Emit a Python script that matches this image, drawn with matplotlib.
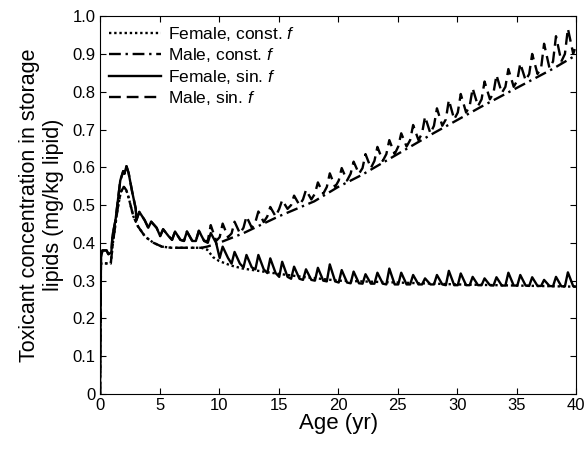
import matplotlib
matplotlib.use('Agg')
import matplotlib.pyplot as plt

plt.rcParams['font.family'] = ['Liberation Sans', 'DejaVu Sans']
plt.rcParams['mathtext.fontset'] = 'custom'
plt.rcParams['mathtext.it'] = 'Liberation Sans:italic'
plt.rcParams['mathtext.rm'] = 'Liberation Sans'

# smooth (constant f) curves, shared until ~8.5 yr
const_t = [0, 0.05, 0.3, 0.9, 1.1, 1.5, 1.75, 2.0, 2.2, 2.4, 2.8, 3.2, 3.8, 4.5, 5.2, 6.0, 8.5]
const_v = [0, 0.345, 0.346, 0.345, 0.405, 0.495, 0.535, 0.548, 0.54, 0.52, 0.47, 0.443, 0.416, 0.40, 0.39, 0.387, 0.387]

fem_const_t = [9.0, 9.5, 10, 11, 12, 13.5, 15, 17, 20, 25, 30, 35, 40]
fem_const_v = [0.382, 0.362, 0.352, 0.34, 0.332, 0.325, 0.318, 0.31, 0.30, 0.295, 0.29, 0.287, 0.284]

male_const_t = [9, 10, 12, 15, 18, 20, 22, 25, 28, 30, 32, 35, 38, 40]
male_const_v = [0.39, 0.40, 0.425, 0.47, 0.51, 0.548, 0.58, 0.635, 0.69, 0.725, 0.76, 0.81, 0.86, 0.897]

# sinusoidal f curves: early part shared
sin_early_t = [0, 0.08, 0.2, 0.55, 0.7, 0.95, 1.05, 1.3, 1.7, 1.95, 2.05, 2.22, 2.4, 2.7, 3.0]
sin_early_v = [0, 0.36, 0.38, 0.38, 0.37, 0.375, 0.42, 0.46, 0.565, 0.59, 0.583, 0.603, 0.585, 0.535, 0.49]

# yearly sawtooth: trough before the annual peak, and the peak, years 3..39
years = list(range(3, 40))
fem_trough = [0.46, 0.44, 0.418, 0.408, 0.405, 0.405, 0.40, 0.36, 0.345, 0.335, 0.33, 0.32,
              0.31, 0.305, 0.302, 0.30, 0.298, 0.295, 0.293, 0.292, 0.292, 0.29, 0.29, 0.29,
              0.29, 0.29, 0.288, 0.288, 0.288, 0.288, 0.287, 0.287, 0.287, 0.286, 0.286, 0.285, 0.285]
fem_peak = [0.482, 0.456, 0.436, 0.43, 0.43, 0.432, 0.426, 0.39, 0.376, 0.368, 0.368, 0.359,
            0.35, 0.337, 0.33, 0.334, 0.343, 0.328, 0.324, 0.317, 0.321, 0.332, 0.321, 0.315,
            0.306, 0.315, 0.326, 0.319, 0.31, 0.306, 0.309, 0.321, 0.315, 0.309, 0.302, 0.31, 0.322]
male_trough = [0.46, 0.44, 0.418, 0.408, 0.405, 0.405, 0.405, 0.415, 0.425, 0.44, 0.455, 0.47,
               0.49, 0.50, 0.515, 0.53, 0.548, 0.565, 0.583, 0.598, 0.617, 0.635, 0.655, 0.672,
               0.69, 0.71, 0.727, 0.745, 0.762, 0.78, 0.797, 0.813, 0.83, 0.847, 0.863, 0.88, 0.90]
male_peak = [0.482, 0.456, 0.436, 0.43, 0.43, 0.432, 0.447, 0.451, 0.456, 0.47, 0.483, 0.495,
             0.513, 0.525, 0.54, 0.56, 0.584, 0.598, 0.615, 0.635, 0.654, 0.672, 0.69, 0.712,
             0.734, 0.756, 0.778, 0.794, 0.809, 0.827, 0.844, 0.86, 0.875, 0.9, 0.927, 0.947, 0.967]
fem_end = 0.284
male_end = 0.925


def sawtooth(trough, peak, end):
    t = list(sin_early_t)
    v = list(sin_early_v)
    for k, lo, hi in zip(years, trough, peak):
        t += [k + 0.05, k + 0.3, k + 0.75]
        v += [lo, hi, lo]
    t.append(40)
    v.append(end)
    return t, v


fig = plt.figure(figsize=(5.85, 4.49), dpi=100)
ax = fig.add_axes([0.171, 0.1225, 0.814, 0.8415])

lw = 1.7
ax.plot(const_t + fem_const_t, const_v + fem_const_v, color='black', ls=(0, (1, 1.2)), lw=lw,
        label='Female, const. $f$')
ax.plot(const_t + male_const_t, const_v + male_const_v, color='black', ls=(0, (5, 2, 1, 2)), lw=lw,
        label='Male, const. $f$')
ft, fv = sawtooth(fem_trough, fem_peak, fem_end)
ax.plot(ft, fv, color='black', ls='-', lw=lw, label='Female, sin. $f$')
mt, mv = sawtooth(male_trough, male_peak, male_end)
ax.plot(mt, mv, color='black', ls=(0, (5, 2.5)), lw=lw, label='Male, sin. $f$')

ax.set_xlim(0, 40)
ax.set_ylim(0, 1.0)
ax.set_xticks(range(0, 41, 5))
ax.set_yticks([i / 10 for i in range(11)])
ax.set_yticklabels(['0'] + ['%.1f' % (i / 10) for i in range(1, 11)])
ax.tick_params(direction='in', top=True, right=True, labelsize=12, length=4, pad=3)
ax.set_xlabel('Age (yr)', fontsize=16, labelpad=0)
ax.set_ylabel('Toxicant concentration in storage\nlipids (mg/kg lipid)', fontsize=15.5, labelpad=6)
ax.legend(loc='upper left', frameon=False, fontsize=12.5, handlelength=3.0,
          borderaxespad=0.2, labelspacing=0.2, handletextpad=0.4, borderpad=0.3)

fig.savefig('out.png', dpi=100)
